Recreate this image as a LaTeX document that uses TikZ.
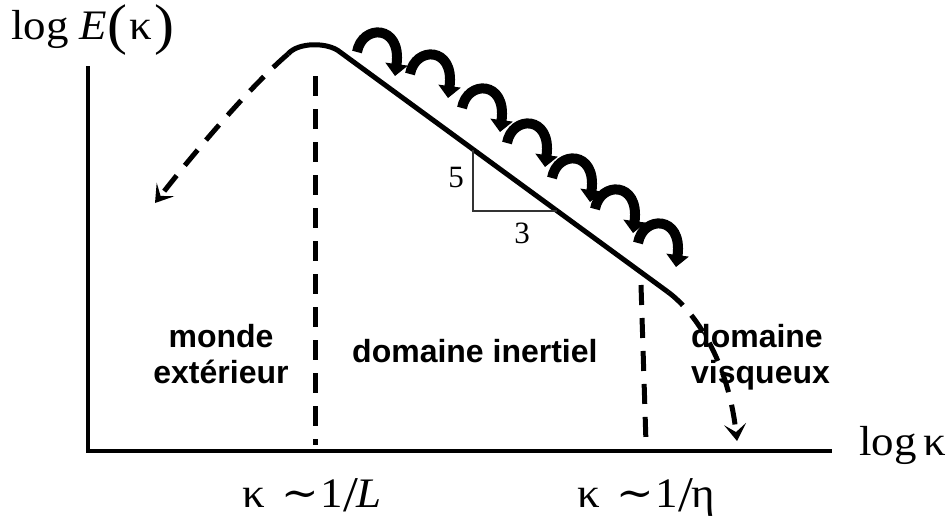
\documentclass[tikz,border=0pt]{standalone}
\usepackage{fontspec}
\setmainfont{Liberation Serif}
\newfontfamily\lsans{Liberation Sans}
\newfontfamily\djserif{DejaVu Serif}
\usetikzlibrary{arrows.meta}
\tikzset{
  axisline/.style={line width=4.5pt, line cap=butt},
  curveline/.style={line width=5pt, line join=round},
  dashline/.style={line width=5pt, dash pattern=on 20pt off 13pt},
  dasharrow/.style={dashline, -{Stealth[length=17pt,width=22pt,inset=8pt]}},
  curlarrow/.style={line width=10pt, -{Triangle[length=12pt,width=22pt]}},
  thinline/.style={line width=1.1pt, draw=black!80},
  lbl/.style={font=\lsans\bfseries\fontsize{32}{36}\selectfont, align=center, inner sep=0pt},
  mathlbl/.style={font=\fontsize{42}{44}\selectfont, inner sep=0pt},
  numlbl/.style={font=\fontsize{31}{32}\selectfont, inner sep=0pt}
}
\newcommand{\simsym}{{\djserif ∼}}
\newcommand{\bigslash}{\raisebox{-4pt}{\fontsize{50}{50}\selectfont/}}
\newcommand{\bigparen}[1]{\raisebox{-4pt}{\fontsize{56}{56}\selectfont #1}}
\newcommand{\wide}[1]{\scalebox{1.07}[1]{#1}}
\begin{document}
\begin{tikzpicture}[x=1pt,y=-1pt]
\useasboundingbox (0,0) rectangle (951,523);

% axes
\coordinate (ytop) at (88,66);
\coordinate (orig) at (88,451);
\coordinate (xend) at (832,451);
\draw[axisline] (ytop) -- (orig) -- (xend);

% labels of the axes
\node[mathlbl, anchor=base west] (ylab) at (11,39)
  {\wide{log\hspace{10pt}\textit{E}\hspace{1pt}\bigparen{(}\hspace{2pt}κ\hspace{2pt}\bigparen{)}}};
\node[mathlbl, anchor=base west] (xlab) at (859,455) {\wide{log\hspace{6pt}κ}};

% spectrum curve
\coordinate (peakL) at (288,54);
\coordinate (lineA) at (340,52);
\coordinate (lineB) at (668,292);
\coordinate (leftTip) at (155,203);
\coordinate (rightTip) at (737,441);
\draw[curveline] (peakL) .. controls (298,42) and (328,42) .. (lineA) -- (lineB);
\draw[dasharrow] (peakL) .. controls (255,82) and (200,145) .. (leftTip);
\draw[dasharrow] (lineB) .. controls (695,312) and (728,360) .. (rightTip);

% vertical dashed limits
\coordinate (L1) at (315,76);
\coordinate (L2) at (315,445);
\coordinate (R1) at (641,285);
\coordinate (R2) at (646,443);
\draw[dashline] (L1) -- (L2);
\draw[dashline] (R1) -- (R2);

% slope triangle
\coordinate (T1) at (473,150);
\coordinate (T2) at (473,211);
\coordinate (T3) at (557,211);
\draw[thinline] (T1) -- (T2) -- (T3);
\node[numlbl] (five) at (456,177) {5};
\node[numlbl] (three) at (522,233) {3};

% cascade curls
\foreach \x/\y in {357/52, 410/74, 462/108, 507/143, 552/178, 595/209, 638/243} {
  \begin{scope}[shift={(\x,\y)}]
    \draw[curlarrow] (0,0) .. controls (5,-28) and (45,-28) .. (38,24);
  \end{scope}
}

% region labels
\node[lbl, anchor=base] (monde) at (221,383) {monde\\extérieur};
\node[lbl, anchor=base west] (inert) at (352,362) {domaine inertiel};
\node[lbl, anchor=base west, align=left] (visq) at (691,383) {domaine\\visqueux};

% wavenumber labels
\node[mathlbl, anchor=base west] (kL) at (242,507)
  {\wide{κ\hspace{16pt}\simsym\hspace{1pt}1\bigslash\hspace{-1pt}\textit{L}}};
\node[mathlbl, anchor=base west] (keta) at (577,507)
  {\wide{κ\hspace{16pt}\simsym\hspace{1pt}1\bigslash\hspace{-1pt}η}};
\end{tikzpicture}
\end{document}
